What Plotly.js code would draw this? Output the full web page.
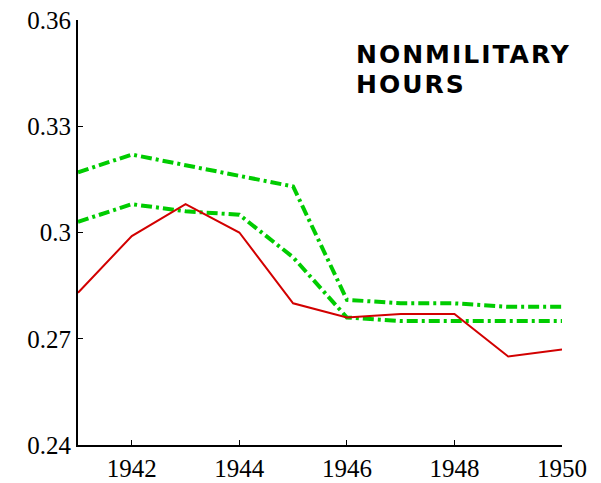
<!DOCTYPE html>
<html>
<head>
<meta charset="utf-8">
<script src="https://cdn.plot.ly/plotly-3.0.1.min.js"></script>
<style>html,body{margin:0;padding:0;background:#fff;}#chart{width:601px;height:483px;}
.annotation-text{letter-spacing:2px;}</style>
</head>
<body>
<div id="chart"></div>
<script>
var years = [1941, 1942, 1943, 1944, 1945, 1946, 1947, 1948, 1949, 1950];
var actual = [0.283, 0.299, 0.308, 0.300, 0.280, 0.276, 0.277, 0.277, 0.265, 0.267];
var upperBand = [0.317, 0.322, 0.319, 0.316, 0.313, 0.281, 0.280, 0.280, 0.279, 0.279];
var lowerBand = [0.303, 0.308, 0.306, 0.305, 0.293, 0.276, 0.275, 0.275, 0.275, 0.275];
var yTicks = [0.24, 0.27, 0.30, 0.33, 0.36];
var yTickLabels = ['0.24', '0.27', '0.3', '0.33', '0.36'];
var xTicks = [1942, 1944, 1946, 1948, 1950];
var xTickLabels = ['1942', '1944', '1946', '1948', '1950'];
var titleLines = ['NONMILITARY', 'HOURS'];

var green = 'rgb(0,204,0)';
var dashPattern = '11px,4px,3px,4px';
var traces = [
  {x: years, y: upperBand, mode: 'lines', line: {color: green, width: 4, dash: dashPattern}, hoverinfo: 'skip'},
  {x: years, y: lowerBand, mode: 'lines', line: {color: green, width: 4, dash: dashPattern}, hoverinfo: 'skip'},
  {x: years, y: actual, mode: 'lines', line: {color: 'rgb(210,0,0)', width: 2}, hoverinfo: 'skip'}
];
var tickFont = {family: 'Liberation Serif, Times New Roman, serif', size: 25, color: '#000'};
var titleFont = {family: 'DejaVu Sans, sans-serif', size: 25, color: '#000'};
var layout = {
  width: 601, height: 483,
  margin: {l: 78, r: 39, t: 20, b: 38, pad: 0},
  paper_bgcolor: '#fff', plot_bgcolor: '#fff',
  showlegend: false,
  xaxis: {
    range: [1941, 1950], tickvals: xTicks, ticktext: xTickLabels,
    ticks: 'inside', ticklen: 5, tickwidth: 1, tickcolor: '#000',
    showline: true, linecolor: '#000', linewidth: 2, showgrid: false, zeroline: false,
    tickfont: tickFont
  },
  yaxis: {
    range: [0.24, 0.36], tickvals: yTicks, ticktext: yTickLabels,
    ticks: 'inside', ticklen: 5, tickwidth: 1, tickcolor: '#000',
    showline: true, linecolor: '#000', linewidth: 2, showgrid: false, zeroline: false,
    tickfont: tickFont
  },
  annotations: [
    {text: '<b>' + titleLines[0] + '</b>', xref: 'paper', yref: 'paper', x: 0.5705, y: 0.918, xanchor: 'left', yanchor: 'middle', showarrow: false,
     font: titleFont},
    {text: '<b>' + titleLines[1] + '</b>', xref: 'paper', yref: 'paper', x: 0.5705, y: 0.848, xanchor: 'left', yanchor: 'middle', showarrow: false,
     font: titleFont}
  ]
};
Plotly.newPlot('chart', traces, layout, {staticPlot: true, displayModeBar: false});
</script>
</body>
</html>
